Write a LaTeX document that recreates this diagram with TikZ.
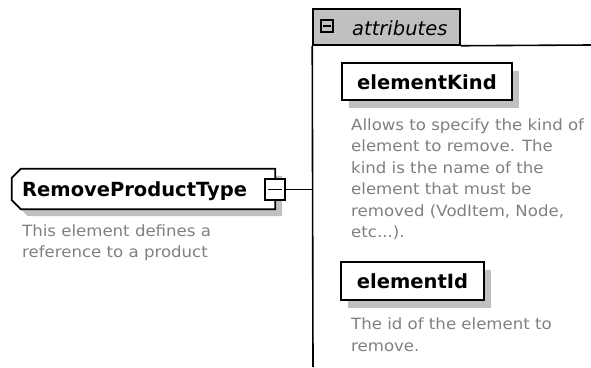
\documentclass[tikz,border=0pt]{standalone}
\usepackage{fontspec}
\usetikzlibrary{shadows}
\newfontfamily\descfont[FakeStretch=1.07]{DejaVu Sans}
\newfontfamily\namefont{DejaVu Sans}
\definecolor{descgray}{RGB}{128,128,128}
\definecolor{shadowgray}{RGB}{192,192,192}
\definecolor{tabgray}{RGB}{192,192,192}
\begin{document}
\begin{tikzpicture}[x=1pt,y=-1pt,
  boxline/.style={line width=1.8pt},
  connector/.style={line width=1.6pt},
  elemshadow/.style={drop shadow={shadow xshift=7pt,shadow yshift=-8pt,fill=shadowgray,opacity=1}},
  namefontstyle/.style={font=\namefont\bfseries\fontsize{19.5}{23}\selectfont},
  attrbox/.style={draw, boxline, fill=white, elemshadow, inner sep=0pt,
    namefontstyle, text height=15pt, text depth=0pt},
  expbox/.style={draw, line width=1.5pt, inner sep=0pt},
  desc/.style={inner sep=0pt, align=left, text=descgray,
    font=\descfont\fontsize{15.5}{21.5}\selectfont},
]
\useasboundingbox (0,0) rectangle (591,367);

% element RemoveProductType: a box with cut-off left corners
\node[inner sep=0pt, minimum width=263pt, minimum height=40pt] (main) at (143.5,189) {};
\fill[shadowgray, transform canvas={xshift=7pt,yshift=-7pt}]
  ([xshift=9pt]main.north west) -- (main.north east) -- (main.south east)
  -- ([xshift=9pt]main.south west) -- ([yshift=9pt]main.south west)
  -- ([yshift=-9pt]main.north west) -- cycle;
\draw[boxline, fill=white, line join=miter]
  ([xshift=9pt]main.north west) -- (main.north east) -- (main.south east)
  -- ([xshift=9pt]main.south west) -- ([yshift=9pt]main.south west)
  -- ([yshift=-9pt]main.north west) -- cycle;
\node[namefontstyle, anchor=base west, inner sep=0pt] (mainlabel) at (22,196) {RemoveProductType};
\node[expbox, fill=white, minimum width=20pt, minimum height=21pt] (mainexp) at (275,189.5) {};
\draw[line width=1.3pt] ([xshift=3.5pt]mainexp.west) -- ([xshift=-3.5pt]mainexp.east);
\node[desc, anchor=north west] (maindoc) at (22,224.5) {This element defines a\\reference to a product};

% attributes group
\node[draw, line width=1.5pt, fill=tabgray, inner sep=0pt,
  minimum width=147pt, minimum height=36pt] (tab) at (386.5,27) {};
\node[expbox, line width=1.3pt, minimum size=12pt] (tabexp) at (327,26) {};
\draw[line width=1.3pt] ([xshift=2.5pt]tabexp.west) -- ([xshift=-2.5pt]tabexp.east);
\node[anchor=base west, inner sep=0pt, font=\namefont\itshape\fontsize{19.5}{23}\selectfont] (tablabel) at (352,35.5) {attributes};
\coordinate (grpend) at (313,367);
\coordinate (tabrule) at (591,45);
\coordinate (grp) at (313,189.5);
\draw[connector] (tab.south west) -- (grpend);
\draw[connector] (tab.south east) -- (tabrule);
\draw[connector] (mainexp.east) -- (grp);

% attribute elementKind
\node[attrbox, minimum width=170pt, minimum height=37pt] (kind) at (427,81.5) {elementKind};
\node[desc, anchor=north west] (kinddoc) at (351,118.5) {Allows to specify the kind of\\element to remove. The\\kind is the name of the\\element that must be\\removed (VodItem, Node,\\etc...).};

% attribute elementId
\node[attrbox, minimum width=143pt, minimum height=38pt] (id) at (412.5,281) {elementId};
\node[desc, anchor=north west] (iddoc) at (351,318) {The id of the element to\\remove.};
\end{tikzpicture}
\end{document}
